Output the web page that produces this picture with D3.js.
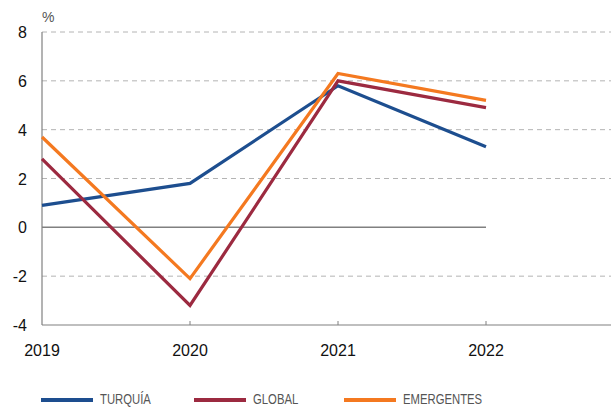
<!DOCTYPE html>
<html>
<head>
<meta charset="utf-8">
<script src="https://cdn.jsdelivr.net/npm/d3@7"></script>
<style>
  body { margin: 0; background: #fff; }
  svg { display: block; font-family: "Liberation Sans", Arial, sans-serif; }
</style>
</head>
<body>
<svg id="chart" width="611" height="407"></svg>
<script>
const years = [2019, 2020, 2021, 2022];
const turquia = [0.9, 1.8, 5.8, 3.3];
const global = [2.8, -3.2, 6.0, 4.9];
const emergentes = [3.7, -2.1, 6.3, 5.2];
const yTicks = [-4, -2, 0, 2, 4, 6, 8];

const series = [
  { name: "TURQUÍA", values: turquia, color: "#1d4e8f" },
  { name: "GLOBAL", values: global, color: "#9c2a40" },
  { name: "EMERGENTES", values: emergentes, color: "#f47920" }
];

const svg = d3.select("#chart");
const mLeft = 42, mRight = 611, mTop = 32, mBottom = 325;

const x = d3.scaleLinear().domain([2019, 2022]).range([mLeft, 486]);
const y = d3.scaleLinear().domain([-4, 8]).range([mBottom, mTop]);

// dashed gridlines
svg.append("g")
  .selectAll("line")
  .data(yTicks.filter(d => d !== 0 && d !== -4))
  .join("line")
  .attr("x1", mLeft).attr("x2", mRight)
  .attr("y1", d => y(d)).attr("y2", d => y(d))
  .attr("stroke", "#b4b4b4")
  .attr("stroke-width", 1)
  .attr("stroke-dasharray", "5,4");

// zero line
svg.append("line")
  .attr("x1", mLeft).attr("x2", x(2022))
  .attr("y1", y(0)).attr("y2", y(0))
  .attr("stroke", "#808080")
  .attr("stroke-width", 1.5);

// axes
svg.append("line")
  .attr("x1", mLeft).attr("x2", mLeft)
  .attr("y1", mTop).attr("y2", mBottom)
  .attr("stroke", "#808080").attr("stroke-width", 1.2);
svg.append("line")
  .attr("x1", mLeft).attr("x2", mRight)
  .attr("y1", mBottom).attr("y2", mBottom)
  .attr("stroke", "#808080").attr("stroke-width", 1.2);

// x ticks (small, inward)
svg.append("g")
  .selectAll("line")
  .data(years.slice(1))
  .join("line")
  .attr("x1", d => x(d)).attr("x2", d => x(d))
  .attr("y1", mBottom).attr("y2", mBottom - 4)
  .attr("stroke", "#808080");

// y labels
svg.append("g")
  .selectAll("text")
  .data(yTicks)
  .join("text")
  .attr("x", 27)
  .attr("y", d => y(d) + 6)
  .attr("text-anchor", "end")
  .attr("font-size", 16)
  .attr("fill", "#111")
  .text(d => d);

svg.append("text")
  .attr("x", 42).attr("y", 22)
  .attr("font-size", 14)
  .attr("fill", "#555")
  .text("%");

// x labels
svg.append("g")
  .selectAll("text")
  .data(years)
  .join("text")
  .attr("x", d => x(d))
  .attr("y", 356)
  .attr("text-anchor", "middle")
  .attr("font-size", 16)
  .attr("fill", "#111")
  .text(d => d);

// lines
const line = d3.line()
  .x((d, i) => x(years[i]))
  .y(d => y(d));

svg.append("g")
  .selectAll("path")
  .data(series)
  .join("path")
  .attr("d", d => line(d.values))
  .attr("fill", "none")
  .attr("stroke", d => d.color)
  .attr("stroke-width", 3.2)
  .attr("stroke-linejoin", "miter");

// legend (condensed look via horizontal squeeze)
const legendX = [41, 194, 344];
const lg = svg.append("g")
  .selectAll("g")
  .data(series)
  .join("g")
  .attr("transform", (d, i) => `translate(${legendX[i]},400)`);
lg.append("line")
  .attr("x1", 0).attr("x2", 52)
  .attr("stroke", d => d.color)
  .attr("stroke-width", 4);
lg.append("text")
  .attr("transform", "translate(59,3.5) scale(0.78,1)")
  .attr("font-size", 14.5)
  .attr("fill", "#555")
  .text(d => d.name);
</script>
</body>
</html>
